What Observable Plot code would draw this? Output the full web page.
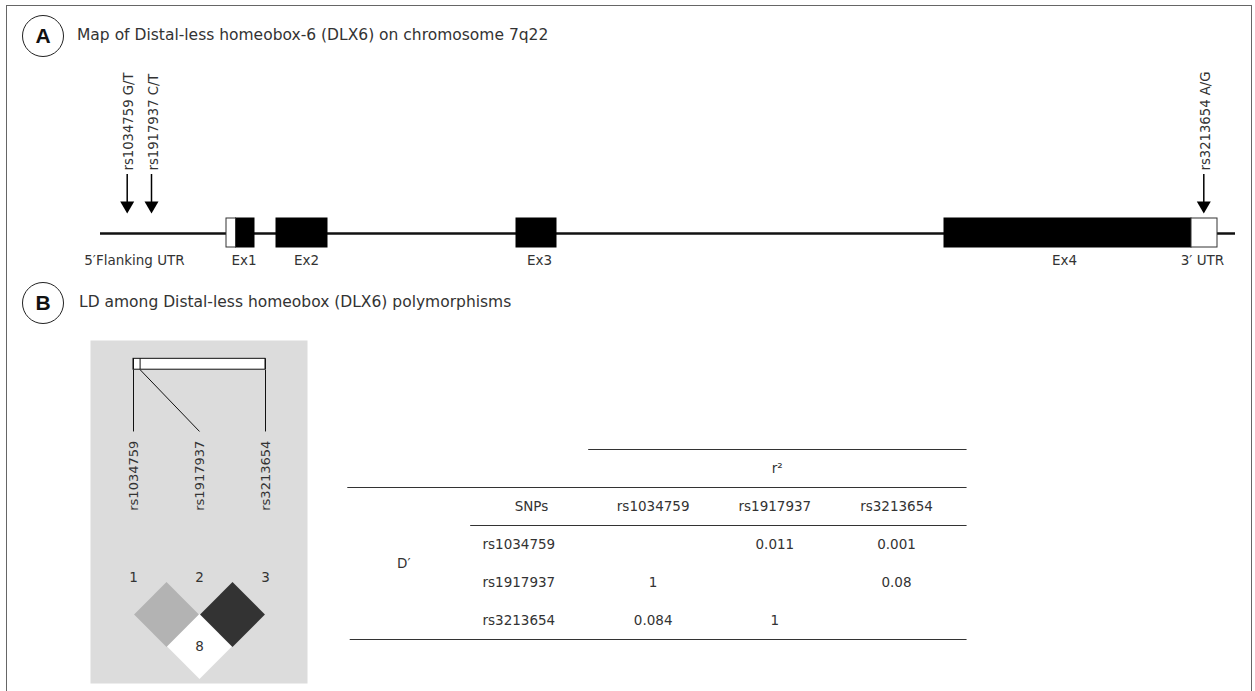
<!DOCTYPE html>
<html>
<head>
<meta charset="utf-8">
<script src="https://cdn.jsdelivr.net/npm/d3@7"></script>
<script src="https://cdn.jsdelivr.net/npm/@observablehq/plot@0.6"></script>
<style>
html, body { margin: 0; padding: 0; background: #fff; }
body { font-family: "DejaVu Sans", sans-serif; color: #222; }
#fig { position: relative; width: 1255px; height: 691px; overflow: hidden; background: #fff; }
#fig svg { position: absolute; left: 0; top: 0; }
.border { position: absolute; left: 6px; top: 5px; width: 1246px; height: 740px; border: 1.5px solid #666; box-sizing: border-box; }
.badge { position: absolute; width: 42px; height: 42px; border: 1.3px solid #222; border-radius: 50%; box-sizing: border-box;
  display: flex; align-items: center; justify-content: center; font-family: "Liberation Sans", Arial, sans-serif; font-size: 21px; font-weight: 700; color: #111; }
.heading { position: absolute; font-size: 15.5px; line-height: 1; transform: translateY(-50%); white-space: nowrap; color: #333; }
</style>
</head>
<body>
<div id="fig">
  <div class="border"></div>
  <div class="badge" style="left:22px; top:15px;">A</div>
  <div class="heading" style="left:77px; top:36px;">Map of Distal-less homeobox-6 (DLX6) on chromosome 7q22</div>
  <div class="badge" style="left:22px; top:282px;">B</div>
  <div class="heading" style="left:79px; top:303px;">LD among Distal-less homeobox (DLX6) polymorphisms</div>
</div>
<script>
// ---------- Panel A: gene map (positions along the schematic, in map units) ----------
const geneSpan = [0, 1135];
const featureNames = ["Ex1", "Ex1", "Ex2", "Ex3", "Ex4", "3′ UTR"];
const featureKinds = ["UTR", "coding", "coding", "coding", "coding", "UTR"];
const featureStart = [126, 135.5, 176, 416, 844, 1091];
const featureEnd   = [135.5, 154, 227, 456, 1091, 1117];
const regionLabels   = ["5′Flanking UTR", "Ex1", "Ex2", "Ex3", "Ex4", "3′ UTR"];
const regionLabelPos = [34, 143.5, 206, 439, 964, 1102];

const snpIds     = ["rs1034759", "rs1917937", "rs3213654"];
const snpAlleles = ["G/T", "C/T", "A/G"];
const snpGenePos = [26.7, 51, 1103.3];

// ---------- Panel B: LD ----------
const snpMapFraction = [0, 0.05, 1];       // relative physical position in LD block bar
const pairA     = [0, 0, 1];
const pairB     = [1, 2, 2];
const pairDprime = [1, 0.084, 1];
const pairR2     = [0.011, 0.001, 0.08];
const pairClass  = ["D′=1, LOD<2", "D′<1, LOD<2", "D′=1, LOD≥2"];
const ldClassDomain = ["D′<1, LOD<2", "D′=1, LOD<2", "D′=1, LOD≥2"];
const ldClassColors = ["#ffffff", "#b3b3b3", "#333333"];
const tableHeader = "SNPs";
const r2Label = "r²";
const dLabel = "D′";

// ---------- build tables ----------
const features = featureNames.map((n, i) => ({name: n, kind: featureKinds[i], start: featureStart[i], end: featureEnd[i]}));
const regions = regionLabels.map((l, i) => ({label: l, pos: regionLabelPos[i]}));
const snps = snpIds.map((id, i) => ({id, allele: snpAlleles[i], pos: snpGenePos[i], idx: i + 1, map: 1 + 2 * snpMapFraction[i]}));
const pairs = pairA.map((a, i) => ({a, b: pairB[i], dprime: pairDprime[i], r2: pairR2[i], cls: pairClass[i]}));
const cells = pairs.flatMap(p => [
  {row: p.a + 1, col: p.b + 1, value: String(p.r2)},
  {row: p.b + 1, col: p.a + 1, value: String(p.dprime)}
]);

const W = 1255, H = 691;
const FONT = '"DejaVu Sans", sans-serif';
const TXT = "#333";
const common = {
  width: W, height: H, margin: 0,
  style: {background: "none", fontFamily: FONT, fontSize: "13px", color: TXT, overflow: "visible"}
};

// Panel A
const plotA = Plot.plot({
  ...common,
  x: {domain: geneSpan, range: [100, 1235], axis: null},
  y: {domain: [0, H], range: [0, H], axis: null},
  marks: [
    Plot.ruleY([233], {x1: geneSpan[0], x2: geneSpan[1], stroke: "#111", strokeWidth: 2.5}),
    Plot.rect(features.filter(d => d.kind === "coding"), {x1: "start", x2: "end", y1: 218, y2: 247, fill: "#000", stroke: "#000", strokeWidth: 1}),
    Plot.rect(features.filter(d => d.kind === "UTR"), {x1: "start", x2: "end", y1: 218, y2: 247, fill: "#fff", stroke: "#333", strokeWidth: 1}),
    Plot.text(regions, {x: "pos", y: 260, text: "label", fontSize: 13.5, fill: TXT}),
    Plot.ruleX(snps, {x: "pos", y1: 174, y2: 202, stroke: "#000", strokeWidth: 1.5}),
    Plot.dot(snps, {x: "pos", y: 205, symbol: "triangle", r: 5.2, rotate: 180, fill: "#000", stroke: "none"}),
    Plot.text(snps, {x: "pos", y: 170, text: d => d.id + " " + d.allele, rotate: -90, textAnchor: "start", dx: 2, fontSize: 13.2, fill: TXT})
  ]
});

// Panel B: LD plot
const plotLD = Plot.plot({
  ...common,
  marginLeft: 90, marginTop: 340, marginRight: W - 307, marginBottom: H - 683,
  x: {domain: [1, 3], range: [133, 265], axis: null},
  y: {domain: [1, 2], range: [614, 646], axis: null},
  color: {domain: ldClassDomain, range: ldClassColors},
  marks: [
    Plot.frame({fill: "#dcdcdc", stroke: "none"}),
    Plot.rect([0], {x1: 1, x2: 3, y1: -6.99, y2: -6.65, fill: "#fff", stroke: "#111", strokeWidth: 1}),
    Plot.ruleX(snps, {x: "map", y1: -6.99, y2: -6.65, stroke: "#111", strokeWidth: 1}),
    Plot.link(snps, {x1: "map", y1: -6.65, x2: "idx", y2: -4.72, stroke: "#111", strokeWidth: 1}),
    Plot.text(snps, {x: "idx", y: -4.43, text: "id", rotate: -90, textAnchor: "end", fontSize: 13, fill: TXT}),
    Plot.text(snps, {x: "idx", y: -0.15, text: d => String(d.idx), fontSize: 13.5, fill: TXT}),
    Plot.dot(pairs, {x: d => (d.a + d.b) / 2 + 1, y: d => d.b - d.a, symbol: "diamond2", r: 29.2, fill: "cls", stroke: "none"}),
    Plot.text(pairs.filter(d => d.dprime < 1), {x: d => (d.a + d.b) / 2 + 1, y: d => d.b - d.a, text: d => String(Math.round(d.dprime * 100)), fontSize: 13.5, fill: TXT})
  ]
});

// Panel B: table
const plotT = Plot.plot({
  ...common,
  x: {domain: [0, 3], range: [531, 896], axis: null},
  y: {domain: [0, 3], range: [506, 620], axis: null},
  marks: [
    Plot.ruleY([-1.5], {x1: 0.47, x2: 3.58, stroke: "#333", strokeWidth: 1.2}),
    Plot.ruleY([-0.5], {x1: -1.51, x2: 3.58, stroke: "#333", strokeWidth: 1.2}),
    Plot.ruleY([0.5], {x1: -0.5, x2: 3.58, stroke: "#333", strokeWidth: 1.2}),
    Plot.ruleY([3.5], {x1: -1.49, x2: 3.58, stroke: "#333", strokeWidth: 1.2}),
    Plot.text([r2Label], {x: 2.02, y: -1, text: d => d, fontSize: 13.5, fill: TXT}),
    Plot.text([dLabel], {x: -1.05, y: 1.5, text: d => d, fontSize: 13.5, fill: TXT}),
    Plot.text([tableHeader], {x: 0, y: 0, text: d => d, fontSize: 13.5, fill: TXT}),
    Plot.text(snps, {x: "idx", y: 0, text: "id", fontSize: 13.5, fill: TXT}),
    Plot.text(snps, {x: 0, y: "idx", text: "id", textAnchor: "start", dx: -49, fontSize: 13.5, fill: TXT}),
    Plot.text(cells, {x: "col", y: "row", text: "value", fontSize: 13.5, fill: TXT})
  ]
});

const fig = document.getElementById("fig");
fig.appendChild(plotA);
fig.appendChild(plotLD);
fig.appendChild(plotT);
</script>
</body>
</html>
